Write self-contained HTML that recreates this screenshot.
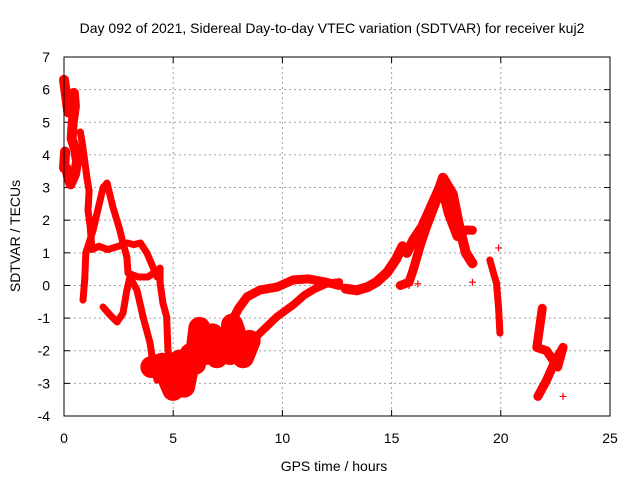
<!DOCTYPE html>
<html><head><meta charset="utf-8"><style>
body{margin:0;background:#fff;}
svg text{font-family:"Liberation Sans",sans-serif;font-size:14px;fill:#000;}
</style></head><body>
<svg id="chart" width="640" height="480">
<rect width="640" height="480" fill="#fff"/>
<text x="332" y="33" text-anchor="middle">Day 092 of 2021, Sidereal Day-to-day VTEC variation (SDTVAR) for receiver kuj2</text>
<text transform="translate(20,236) rotate(-90)" text-anchor="middle">SDTVAR / TECUs</text>
<text x="334" y="471" text-anchor="middle">GPS time / hours</text>
<g id="grid"></g><g id="ticks"></g><g id="marks"></g>
<rect x="64" y="57" width="546" height="359" fill="none" stroke="#000" stroke-width="1"/>
</svg>
<script>
const xTicks=[0,5,10,15,20,25];
const yTicks=[-4,-3,-2,-1,0,1,2,3,4,5,6,7];
const trackEarly=[[0,6.3],[0.1,5.8],[0.2,5.3],[0.3,5.8],[0.45,5.9],[0.5,5.5],[0.4,5.0],[0.35,4.5],[0.5,4.2],[0.6,3.8],[0.5,3.4],[0.3,3.1],[0.2,3.3],[0.1,3.6],[0,3.6],[0.05,4.1]];
const trackStrand=[[0.75,4.7],[0.85,4.3],[0.95,3.8],[1.05,3.3],[1.15,2.9],[1.1,2.3],[1.2,1.8],[1.28,1.1],[1.6,1.2],[2.0,1.1],[2.5,1.2],[2.9,1.3],[3.2,1.25],[3.5,1.3],[3.8,0.99],[4.07,0.57],[4.26,0.26]];
const trackDrop=[[0.87,-0.45],[0.95,0.2],[1.0,1.0],[1.33,1.69],[1.79,3.0],[1.97,3.14],[2.24,2.4],[2.56,1.69],[2.7,1.3],[2.88,0.87],[2.93,0.38],[3.39,0.26],[3.85,0.26],[4.4,0.53],[4.4,0.08],[4.53,-0.54],[4.7,-0.96],[4.76,-1.98],[5.0,-3.0],[5.17,-3.3]];
const trackLoop=[[1.79,-0.66],[2.1,-0.9],[2.43,-1.12],[2.7,-0.85],[2.88,-0.14],[3.02,0.26],[3.34,-0.14],[3.62,-0.96],[3.94,-1.76],[4.07,-2.37],[4.26,-2.9]];
const trackTangle=[[4.0,-2.5],[4.5,-2.4],[5.0,-3.2],[5.3,-2.3],[5.5,-3.1],[5.8,-2.1],[6.0,-2.4],[6.2,-1.3],[6.3,-1.7],[6.5,-2.1],[6.8,-1.5],[7.0,-2.2],[7.3,-1.6],[7.6,-2.1],[7.7,-1.2],[8.0,-1.8],[8.2,-2.2],[8.5,-1.7]];
const trackUpper=[[7.6,-1.2],[8.0,-0.7],[8.38,-0.35],[8.97,-0.14],[9.75,-0.05],[10.5,0.17],[11.2,0.2],[12.0,0.1],[12.6,0.0]];
const trackLower=[[8.2,-2.0],[8.97,-1.46],[9.75,-0.96],[10.49,-0.6],[11.0,-0.3],[11.5,-0.1],[12.0,0.05],[12.6,0.1]];
const trackMid=[[12.9,-0.1],[13.4,-0.15],[13.9,-0.05],[14.3,0.1],[14.8,0.4],[15.2,0.8],[15.5,1.2],[15.7,1.0],[16.0,1.4],[16.4,1.8],[16.8,2.4],[17.2,3.0],[17.35,3.3],[17.8,2.8],[18.1,1.8],[18.4,1.0],[18.7,0.68]];
const trackMid2=[[15.4,0.0],[15.8,0.1],[16.0,0.5],[16.3,1.2],[16.6,1.8],[17.0,2.5],[17.3,3.0],[17.6,2.2],[18.0,1.5],[18.4,1.7],[18.7,1.69]];
const trackLate=[[19.5,0.78],[19.7,0.3],[19.8,0.08],[19.9,-0.7],[19.96,-1.46]];
const trackEnd=[[21.9,-0.7],[21.65,-1.9],[22.1,-2.0],[22.6,-2.5],[22.85,-1.9],[22.5,-2.3],[22.1,-2.9],[21.7,-3.4]];
const singles=[[18.7,0.1],[19.9,1.15],[22.85,-3.4],[15.8,0.0],[16.2,0.05]];
const series=[trackEarly,trackStrand,trackDrop,trackLoop,trackTangle,trackUpper,trackLower,trackMid,trackMid2,trackLate,trackEnd];
const widths=[10,7,7,7,22,9,8,10,9,7,9];
const X0=64,X1=610,Y0=416,Y1=57;
function sx(v){return X0+(v-0)/(25-0)*(X1-X0);}
function sy(v){return Y0-(v+4)/(7+4)*(Y0-Y1);}
const NS='http://www.w3.org/2000/svg';
const grid=document.getElementById('grid'),ticks=document.getElementById('ticks'),marks=document.getElementById('marks');
function mk(tag,attrs,parent){const e=document.createElementNS(NS,tag);for(const k in attrs)e.setAttribute(k,attrs[k]);parent.appendChild(e);return e;}
xTicks.forEach(t=>{
  const x=sx(t);
  if(t>0&&t<25){const g=mk('line',{x1:x,x2:x,y1:Y1,y2:Y0,stroke:'#a0a0a0','stroke-dasharray':'2,3'},grid);
  
  }
  mk('line',{x1:x,x2:x,y1:Y0,y2:Y0-6,stroke:'#000'},ticks);
  mk('line',{x1:x,x2:x,y1:Y1,y2:Y1+6,stroke:'#000'},ticks);
  const l=mk('text',{x:x,y:443,'text-anchor':'middle'},ticks);l.textContent=t;
  
  
});
yTicks.forEach(t=>{
  const y=sy(t);
  if(t>-4&&t<7){const g=mk('line',{x1:X0,x2:X1,y1:y,y2:y,stroke:'#a0a0a0','stroke-dasharray':'2,3'},grid);
  
  }
  mk('line',{x1:X0,x2:X0+6,y1:y,y2:y,stroke:'#000'},ticks);
  mk('line',{x1:X1,x2:X1-6,y1:y,y2:y,stroke:'#000'},ticks);
  const l=mk('text',{x:50,y:y+5,'text-anchor':'end'},ticks);l.textContent=t;
  
  
});
function plus(x,y){
  const p=mk('path',{d:`M${x-3.5},${y}h7M${x},${y-3.5}v7`,stroke:'#f00','stroke-width':1.2},marks);
  
  
}
series.forEach((s,i)=>{
  const pl=mk('polyline',{points:s.map(p=>sx(p[0])+','+sy(p[1])).join(' '),fill:'none',stroke:'#f00','stroke-width':widths[i],'stroke-linejoin':'round','stroke-linecap':'round'},marks);
  
  
  s.forEach(p=>plus(sx(p[0]),sy(p[1])));
});
singles.forEach(p=>plus(sx(p[0]),sy(p[1])));
</script>
</body></html>
